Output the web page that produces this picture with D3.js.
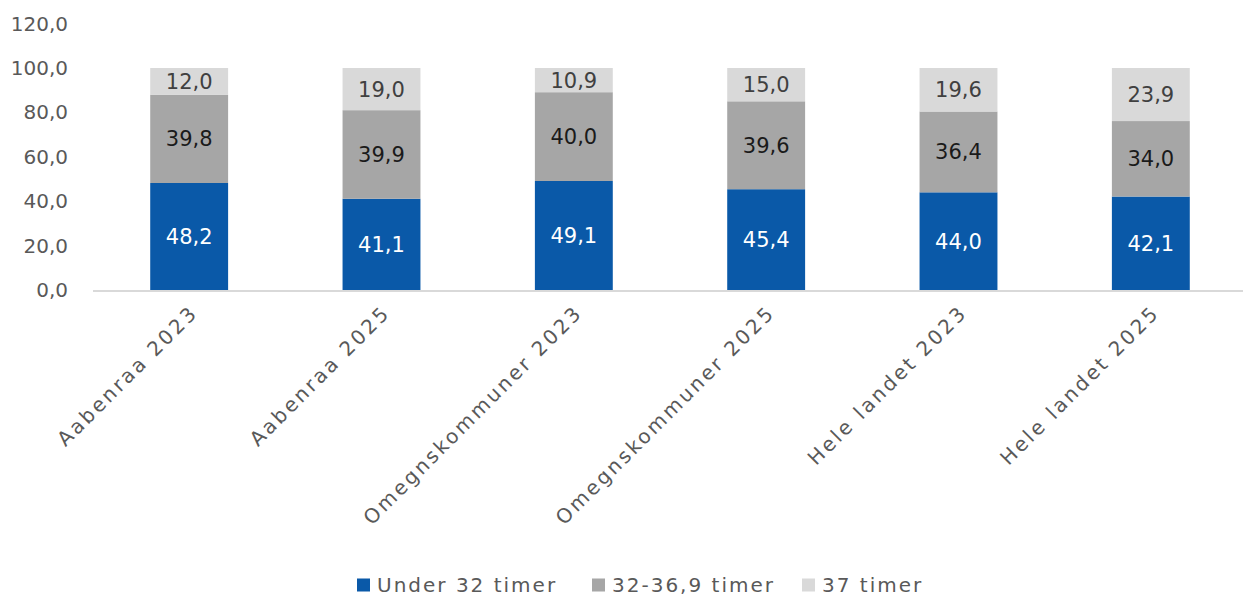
<!DOCTYPE html>
<html>
<head>
<meta charset="utf-8">
<script src="https://cdn.jsdelivr.net/npm/d3@7"></script>
<style>
  html, body { margin: 0; padding: 0; background: #fff; }
  svg { display: block; }
  text { font-family: "DejaVu Sans", sans-serif; }
</style>
</head>
<body>
<svg id="chart" width="1243" height="596"></svg>
<script>
// Categories and stacked series (percent of employees by weekly hours)
const categories = ["Aabenraa 2023", "Aabenraa 2025", "Omegnskommuner 2023", "Omegnskommuner 2025", "Hele landet 2023", "Hele landet 2025"];
const seriesNames = ["Under 32 timer", "32-36,9 timer", "37 timer"];
const under32 = [48.2, 41.1, 49.1, 45.4, 44.0, 42.1];
const mid32to369 = [39.8, 39.9, 40.0, 39.6, 36.4, 34.0];
const full37 = [12.0, 19.0, 10.9, 15.0, 19.6, 23.9];
const yTicks = [0, 20, 40, 60, 80, 100, 120];

const seriesValues = [under32, mid32to369, full37];
const fills = ["#0a59a8", "#a6a6a6", "#d9d9d9"];
const labelFills = ["#ffffff", "#1a1a1a", "#404040"];

const locale = d3.formatLocale({ decimal: ",", thousands: ".", grouping: [3], currency: ["", ""] });
const fmt = locale.format(".1f");

const svg = d3.select("#chart");

const x = d3.scaleBand()
  .domain(categories)
  .range([93, 1247])
  .paddingInner(0.595)
  .paddingOuter(0.2975);

const y = d3.scaleLinear().domain([0, 120]).range([290, 23.6]);

// Table rows for the stack layout
const rows = categories.map((c, i) => {
  const r = { category: c };
  seriesNames.forEach((s, k) => { r[s] = seriesValues[k][i]; });
  return r;
});
const stacked = d3.stack().keys(seriesNames)(rows);

// Y axis labels (no line, no ticks)
const yAxis = d3.axisLeft(y).tickValues(yTicks).tickFormat(fmt).tickSize(0).tickPadding(0);
const yg = svg.append("g").attr("transform", "translate(68,0)").call(yAxis);
yg.select(".domain").remove();
yg.selectAll("text")
  .attr("fill", "#595959")
  .style("font-size", "20px")
  .style("font-family", "'DejaVu Sans', sans-serif");

// Baseline
svg.append("line")
  .attr("x1", 93).attr("x2", 1243)
  .attr("y1", y(0) + 1).attr("y2", y(0) + 1)
  .attr("stroke", "#d9d9d9").attr("stroke-width", 2);

// Stacked bars
const layers = svg.append("g").selectAll("g")
  .data(stacked)
  .join("g")
  .attr("fill", (d, k) => fills[k]);

layers.selectAll("rect")
  .data(d => d)
  .join("rect")
  .attr("x", d => x(d.data.category))
  .attr("width", x.bandwidth())
  .attr("y", d => y(d[1]))
  .attr("height", d => y(d[0]) - y(d[1]));

// Value labels centred in each segment
stacked.forEach((layer, k) => {
  svg.append("g").selectAll("text")
    .data(layer)
    .join("text")
    .attr("x", d => x(d.data.category) + x.bandwidth() / 2)
    .attr("y", d => y((d[0] + d[1]) / 2))
    .attr("dy", "0.36em")
    .attr("text-anchor", "middle")
    .attr("fill", labelFills[k])
    .style("font-size", "21px")
    .text(d => fmt(d[1] - d[0]));
});

// Rotated category labels
svg.append("g").selectAll("text")
  .data(categories)
  .join("text")
  .attr("transform", c => `translate(${x(c) + x.bandwidth() / 2},${304}) rotate(-45)`)
  .attr("text-anchor", "end")
  .attr("dy", "0.7em")
  .attr("fill", "#595959")
  .style("font-size", "20px")
  .style("letter-spacing", "2.7px")
  .text(c => c);

// Legend
const legendX = [357, 592, 802];
const legend = svg.append("g").selectAll("g")
  .data(seriesNames)
  .join("g")
  .attr("transform", (d, k) => `translate(${legendX[k]},585)`);
legend.append("rect")
  .attr("x", 0).attr("y", -6.5).attr("width", 13).attr("height", 13)
  .attr("fill", (d, k) => fills[k]);
legend.append("text")
  .attr("x", 20)
  .attr("dy", "0.36em")
  .attr("fill", "#595959")
  .style("font-size", "20px")
  .style("letter-spacing", "2px")
  .text(d => d);
</script>
</body>
</html>
